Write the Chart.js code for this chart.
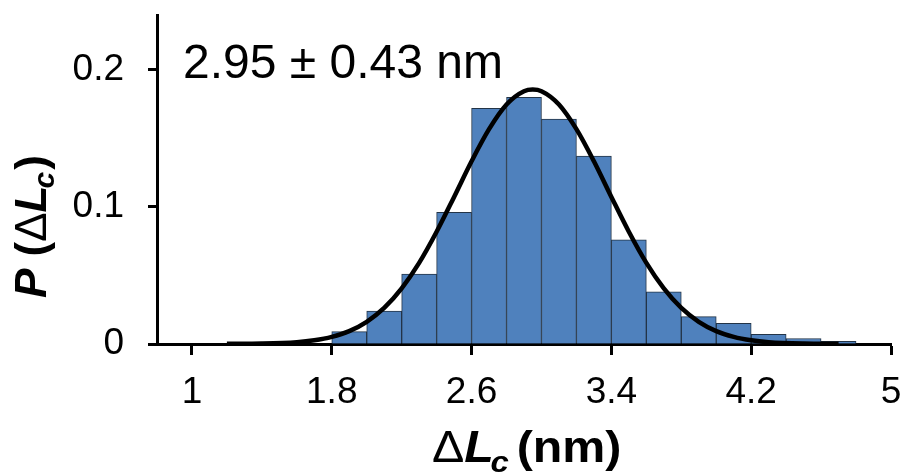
<!DOCTYPE html>
<html>
<head>
<meta charset="utf-8">
<script src="https://cdn.jsdelivr.net/npm/chart.js@4/dist/chart.umd.min.js"></script>
<style>
  html, body { margin: 0; padding: 0; background: #fff; }
  #wrap { width: 904px; height: 474px; position: relative; }
</style>
</head>
<body>
<div id="wrap"><canvas id="histChart" width="904" height="474"></canvas></div>
<script>
// histogram bins (centres, nm) and probabilities
var binCenters = [1.9, 2.1, 2.3, 2.5, 2.7, 2.9, 3.1, 3.3, 3.5, 3.7, 3.9, 4.1, 4.3, 4.5, 4.7];
var binProbs = [0.009, 0.024, 0.051, 0.096, 0.172, 0.180, 0.164, 0.137, 0.076, 0.038, 0.020, 0.015, 0.007, 0.004, 0.002];

// gaussian fit curve
var fitX = [1.2, 1.4, 1.6, 1.7, 1.8, 1.9, 2.0, 2.1, 2.2, 2.3, 2.4, 2.5, 2.6, 2.7, 2.8, 2.9, 2.95, 3.0, 3.1, 3.2, 3.3, 3.4, 3.5, 3.6, 3.7, 3.8, 3.9, 4.0, 4.1, 4.2, 4.3, 4.5, 4.7];
var fitY = [0.0001, 0.0003, 0.0013, 0.0027, 0.0052, 0.0094, 0.0162, 0.0263, 0.0406, 0.0592, 0.0819, 0.1073, 0.1333, 0.1567, 0.1747, 0.1844, 0.1856, 0.1844, 0.1747, 0.1567, 0.1333, 0.1073, 0.0819, 0.0592, 0.0406, 0.0263, 0.0162, 0.0094, 0.0052, 0.0027, 0.0013, 0.0003, 0.0001];

var xTickValues = [1, 1.8, 2.6, 3.4, 4.2, 5];
var yTickValues = [0, 0.1, 0.2];
var fitLabel = "2.95 \u00b1 0.43 nm";

var FONT = "'Liberation Sans', Arial, sans-serif";

function drawRuns(ctx, runs, x, y) {
  runs.forEach(function (r) {
    ctx.font = r.font;
    ctx.fillText(r.text, x, y + (r.dy || 0));
    x += ctx.measureText(r.text).width + (r.gap || 0);
  });
}

var labelsPlugin = {
  id: 'labels',
  afterDraw: function (chart) {
    var ctx = chart.ctx;
    ctx.save();
    ctx.fillStyle = '#000';
    ctx.textBaseline = 'alphabetic';
    ctx.textAlign = 'left';

    // fit annotation
    ctx.font = '48px ' + FONT;
    ctx.fillText(fitLabel, 183, 78);

    // x title: ΔLc (nm)
    ctx.save();
    ctx.translate(432, 462);
    ctx.scale(1.1, 1);
    drawRuns(ctx, [
      { text: '\u0394', font: '44px ' + FONT },
      { text: 'L', font: 'italic bold 44px ' + FONT, gap: -3 },
      { text: 'c', font: 'italic bold 30px ' + FONT, dy: 10, gap: 7 },
      { text: '(nm)', font: 'bold 44px ' + FONT }
    ], 0, 0);
    ctx.restore();

    // y title: P (ΔLc)
    ctx.translate(46, 298);
    ctx.rotate(-Math.PI / 2);
    drawRuns(ctx, [
      { text: 'P ', font: 'italic bold 44px ' + FONT },
      { text: '(', font: 'bold 44px ' + FONT },
      { text: '\u0394', font: '44px ' + FONT },
      { text: 'L', font: 'italic bold 44px ' + FONT, gap: -3 },
      { text: 'c', font: 'italic bold 30px ' + FONT, dy: 8, gap: 2 },
      { text: ')', font: 'bold 44px ' + FONT }
    ], 0, 0);
    ctx.restore();
  }
};

var barData = binCenters.map(function (c, i) { return { x: c, y: binProbs[i] }; });
var fitData = fitX.map(function (c, i) { return { x: c, y: fitY[i] }; });

new Chart(document.getElementById('histChart').getContext('2d'), {
  type: 'bar',
  data: {
    datasets: [{
      type: 'line',
      label: 'Gaussian fit',
      data: fitData,
      borderColor: '#000',
      borderWidth: 4.5,
      pointRadius: 0,
      cubicInterpolationMode: 'monotone',
      fill: false,
      order: 0
    }, {
      type: 'bar',
      label: 'P',
      data: barData,
      backgroundColor: '#4f81bd',
      borderColor: '#233447',
      borderWidth: 1,
      barPercentage: 1,
      categoryPercentage: 1,
      order: 1
    }]
  },
  options: {
    responsive: false,
    animation: false,
    layout: { padding: { top: 15, right: 13, left: 0, bottom: 0 } },
    scales: {
      x: {
        type: 'linear',
        min: 0.8,
        max: 5,
        offset: false,
        afterFit: function (scale) {
          scale.height = 130;
          scale.paddingLeft = 0;
          scale.paddingRight = 0;
        },
        afterBuildTicks: function (scale) {
          scale.ticks = xTickValues.map(function (v) { return { value: v }; });
        },
        grid: {
          offset: false,
          drawOnChartArea: false,
          drawTicks: true,
          tickLength: 11,
          tickWidth: 3,
          tickColor: '#000'
        },
        border: { display: true, color: '#000', width: 3 },
        ticks: {
          color: '#000',
          font: { family: FONT, size: 37 },
          padding: 16,
          maxRotation: 0,
          autoSkip: false,
          callback: function (v) { return String(v); }
        }
      },
      y: {
        min: 0,
        max: 0.24,
        afterFit: function (scale) {
          scale.width = 157;
          scale.paddingTop = 0;
          scale.paddingBottom = 0;
        },
        afterBuildTicks: function (scale) {
          scale.ticks = yTickValues.map(function (v) { return { value: v }; });
        },
        grid: {
          drawOnChartArea: false,
          drawTicks: true,
          tickLength: 9,
          tickWidth: 3,
          tickColor: '#000'
        },
        border: { display: true, color: '#000', width: 3 },
        ticks: {
          color: '#000',
          font: { family: FONT, size: 37 },
          padding: 24,
          callback: function (v) { return String(v); }
        }
      }
    },
    plugins: {
      legend: { display: false },
      tooltip: { enabled: false }
    }
  },
  plugins: [labelsPlugin]
});
</script>
</body>
</html>
